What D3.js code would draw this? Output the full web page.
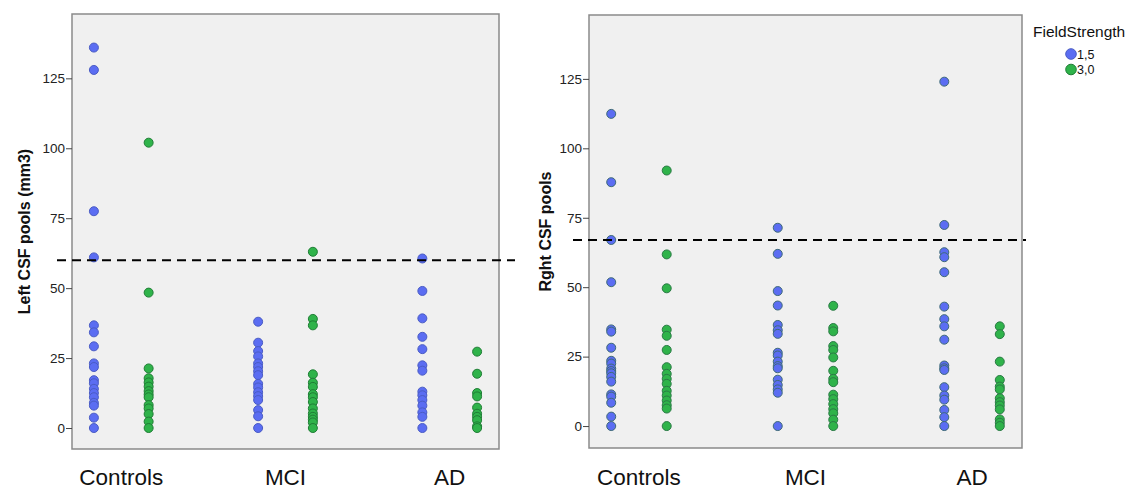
<!DOCTYPE html>
<html>
<head>
<meta charset="utf-8">
<script src="https://cdn.jsdelivr.net/npm/d3@7"></script>
<style>
  body { margin: 0; background: #fff; }
  svg { display: block; font-family: "Liberation Sans", Arial, sans-serif; }
</style>
</head>
<body>
<svg id="chart" width="1130" height="490"></svg>
<script>
// categories and legend
const categories = ['Controls', 'MCI', 'AD'];
const strengths = ['1,5', '3,0'];
const yTicks = [0, 25, 50, 75, 100, 125];

// Left CSF pools (mm3)
const leftControls15 = [136, 128, 77.5, 61, 36.7, 34.2, 29.2, 23.1, 21.8, 17.1, 16, 14, 12.5, 11, 9, 8, 3.7, 0];
const leftControls30 = [102, 48.4, 21.3, 17.8, 16.3, 14.8, 13.2, 12, 11, 8.2, 7, 5, 2.3, 0];
const leftMCI15 = [38, 30.5, 27.5, 25.6, 23.1, 21.8, 20.3, 18.9, 15.8, 14.5, 12.8, 11.4, 10, 6.4, 4.2, 0];
const leftMCI30 = [63, 39, 36.7, 19.2, 16.2, 14.7, 12.1, 11, 9.3, 7, 5.2, 4, 3, 2, 0];
const leftAD15 = [60.6, 49, 39.2, 32.6, 28.2, 22.4, 20.5, 13, 11.7, 10, 8, 5.6, 4, 0];
const leftAD30 = [27.3, 19.4, 12.5, 11.3, 7.3, 5.1, 4, 2.8, 0.6, 0];

// Rght CSF pools
const rightControls15 = [112.4, 87.8, 67, 51.8, 34.8, 34, 28.2, 23.5, 22.5, 20.7, 19.8, 19, 17.7, 16, 11.4, 10.6, 8.4, 3.4, 0];
const rightControls30 = [92, 61.8, 49.6, 34.7, 32.5, 27.4, 21.2, 18.8, 17, 15.2, 12.7, 11, 9.2, 7.5, 6.3, 0];
const rightMCI15 = [71.4, 62, 48.6, 43.4, 36.4, 34.5, 33.2, 26.4, 25.4, 23.2, 21.6, 20.8, 16.7, 14.8, 13.2, 12, 0];
const rightMCI30 = [43.3, 35.3, 34.1, 28.8, 27.4, 24.7, 19.9, 17, 15.8, 11.3, 9.7, 7.9, 6.1, 4.6, 2.3, 0];
const rightAD15 = [124, 72.4, 62.6, 60.8, 55.4, 43, 38.5, 35.9, 31.1, 21.8, 20.8, 20.2, 14, 11, 9.5, 5.8, 3.2, 0];
const rightAD30 = [35.9, 33.1, 23.2, 16.6, 14.2, 13.2, 10, 8.6, 7.4, 6, 2.4, 1.2, 0];

// reference lines
const leftThreshold = 60;
const rightThreshold = 67;

const colors = { '1,5': '#5b6df2', '3,0': '#2fb34a' };
const strokes = { '1,5': '#4a5cc4', '3,0': '#1f7d35' };

const panels = [
  {
    title: 'Left CSF pools (mm3)',
    threshold: leftThreshold,
    data: {
      Controls: { '1,5': leftControls15, '3,0': leftControls30 },
      MCI: { '1,5': leftMCI15, '3,0': leftMCI30 },
      AD: { '1,5': leftAD15, '3,0': leftAD30 }
    },
    x0: 72, x1: 499, y0: 14, y1: 449, yMin: -7.5, yMax: 148, titleX: 30, lineExt: [15, 16],
    dotStroke: { '1,5': '#4a5cc4', '3,0': '#1f7d35' }
  },
  {
    title: 'Rght CSF pools',
    threshold: rightThreshold,
    data: {
      Controls: { '1,5': rightControls15, '3,0': rightControls30 },
      MCI: { '1,5': rightMCI15, '3,0': rightMCI30 },
      AD: { '1,5': rightAD15, '3,0': rightAD30 }
    },
    x0: 589, x1: 1022, y0: 15, y1: 448, yMin: -7.9, yMax: 148, titleX: 551, lineExt: [16, 4],
    dotStroke: { '1,5': '#3e6a78', '3,0': '#2a7a45' }
  }
];

const svg = d3.select('#chart');

panels.forEach(p => {
  const g = svg.append('g');

  const x = d3.scalePoint().domain(categories).range([p.x0, p.x1]).padding(0.3);
  const sub = d3.scalePoint().domain(strengths).range([-x.step() / 6, x.step() / 6]);
  const y = d3.scaleLinear().domain([p.yMin, p.yMax]).range([p.y1, p.y0]);

  // frame
  g.append('rect')
    .attr('x', p.x0).attr('y', p.y0)
    .attr('width', p.x1 - p.x0).attr('height', p.y1 - p.y0)
    .attr('fill', '#f0f0f0')
    .attr('stroke', '#8a8a8a')
    .attr('stroke-width', 1.5);

  // y axis
  const yAxis = g.append('g')
    .attr('transform', `translate(${p.x0},0)`)
    .call(d3.axisLeft(y).tickValues(yTicks).tickSize(6).tickPadding(1));
  yAxis.select('.domain').remove();
  yAxis.selectAll('line').attr('stroke', '#444');
  yAxis.selectAll('text')
    .attr('fill', '#222')
    .style('font-size', '13.5px')
    .style('font-family', '"Liberation Sans", Arial, sans-serif');

  // y title
  g.append('text')
    .attr('transform', `translate(${p.titleX},${(p.y0 + p.y1) / 2}) rotate(-90)`)
    .attr('text-anchor', 'middle')
    .attr('font-weight', 'bold')
    .attr('font-size', 16)
    .attr('fill', '#111')
    .text(p.title);

  // category labels
  g.selectAll('text.cat')
    .data(categories)
    .enter()
    .append('text')
    .attr('class', 'cat')
    .attr('x', d => x(d))
    .attr('y', 485)
    .attr('text-anchor', 'middle')
    .attr('font-size', 22.5)
    .attr('fill', '#111')
    .text(d => d);

  // points
  const pts = [];
  strengths.forEach(s => {
    categories.forEach(c => {
      p.data[c][s].forEach(v => pts.push({ c, s, v }));
    });
  });

  g.selectAll('circle.pt')
    .data(pts)
    .enter()
    .append('circle')
    .attr('class', 'pt')
    .attr('cx', d => x(d.c) + sub(d.s))
    .attr('cy', d => y(d.v))
    .attr('r', 4.5)
    .attr('fill', d => colors[d.s])
    .attr('stroke', d => p.dotStroke[d.s])
    .attr('stroke-width', 1);

  // dashed reference line
  g.append('line')
    .attr('x1', p.x0 - p.lineExt[0])
    .attr('x2', p.x1 + p.lineExt[1])
    .attr('y1', y(p.threshold))
    .attr('y2', y(p.threshold))
    .attr('stroke', '#000')
    .attr('stroke-width', 2)
    .attr('stroke-dasharray', '9,6');
});

// legend
const legend = svg.append('g');
legend.append('text')
  .attr('x', 1033).attr('y', 37)
  .attr('font-size', 15.5)
  .attr('fill', '#111')
  .text('FieldStrength');

const li = legend.selectAll('g.item')
  .data(strengths)
  .enter()
  .append('g')
  .attr('class', 'item')
  .attr('transform', (d, i) => `translate(1071,${54 + i * 15.5})`);
li.append('circle')
  .attr('r', 5.3)
  .attr('fill', d => colors[d])
  .attr('stroke', d => strokes[d]);
li.append('text')
  .attr('x', 6).attr('y', 4.5)
  .attr('font-size', 12.5)
  .attr('fill', '#111')
  .text(d => d);
</script>
</body>
</html>
